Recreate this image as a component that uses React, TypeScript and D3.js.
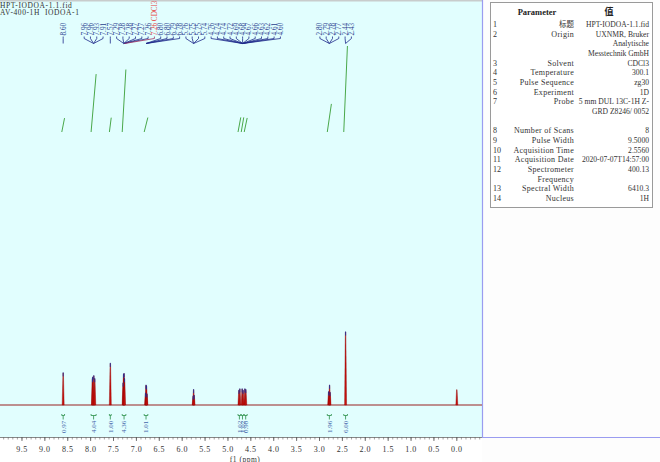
import React from "react";
import * as d3 from "d3";

// ---------- data ----------
const titleLines = ["HPT-IODOA-1.1.fid", "AV-400-1H  IODOA-1"];

// spectrum peaks (ppm, relative intensity; tallest = 100)
const peakPpm = [8.60, 7.96, 7.955, 7.93, 7.91, 7.57, 7.29, 7.28, 7.27, 7.26, 6.80, 6.79, 6.78, 6.77, 5.76, 5.75, 5.74, 4.76, 4.74, 4.69, 4.67, 4.63, 4.61, 2.80, 2.78, 2.77, 2.43, 0.00];
const peakHeight = [44, 36, 38, 40, 36, 57, 30, 42, 43, 36, 16, 27, 26, 15, 12, 21, 13, 20, 22, 22, 20, 22, 21, 18, 27, 17, 100, 21];

// peak picking labels
const labelGroupCenter = [8.60, 7.935, 7.57, 7.275, 7.26, 6.79, 5.75, 4.68, 2.785, 2.43];
const labelGroupTexts = [
  ["8.60"],
  ["7.96", "7.96", "7.93", "7.91"],
  ["7.57"],
  ["7.29", "7.28", "7.28", "7.27", "7.27", "7.26"],
  ["7.26 CDCl3"],
  ["6.80", "6.80", "6.79", "6.78"],
  ["5.76", "5.75", "5.75", "5.74"],
  ["4.76", "4.74", "4.74", "4.72", "4.69", "4.68", "4.67", "4.66", "4.63", "4.62", "4.61", "4.60"],
  ["2.80", "2.79", "2.78", "2.77"],
  ["2.44", "2.43"],
];
const labelGroupSolvent = [false, false, false, false, true, false, false, false, false, false];

// integrals
const integralFrom = [8.63, 7.99, 7.59, 7.31, 6.83, 4.78, 4.71, 4.645, 2.83, 2.47];
const integralTo = [8.57, 7.88, 7.55, 7.23, 6.75, 4.72, 4.655, 4.58, 2.74, 2.39];
const integralValue = [0.97, 4.04, 1.00, 4.36, 1.01, 1.02, 1.02, 0.98, 1.96, 6.00];

// axis ticks
const majorTicks = d3.range(0, 9.51, 0.5);
const minorTicks = d3.range(-0.5, 10.0, 0.1);

// parameter table
const tableNo = ["1", "2", "", "", "3", "4", "5", "6", "7", "", "", "8", "9", "10", "11", "12", "", "13", "14"];
const tableParam = ["标题", "Origin", "", "", "Solvent", "Temperature", "Pulse Sequence", "Experiment", "Probe", "", "", "Number of Scans", "Pulse Width", "Acquisition Time", "Acquisition Date", "Spectrometer", "Frequency", "Spectral Width", "Nucleus"];
const tableValue = ["HPT-IODOA-1.1.fid", "UXNMR, Bruker", "Analytische", "Messtechnik GmbH", "CDCl3", "300.1", "zg30", "1D", "5 mm DUL 13C-1H Z-", "GRD Z8246/ 0052", "", "8", "9.5000", "2.5560", "2020-07-07T14:57:00", "400.13", "", "6410.3", "1H"];

// ---------- layout ----------
const W = 660;
const H = 462;
const plotRight = 482;
const axisY = 437;
const FONT = "'Liberation Serif', 'DejaVu Serif', serif";
const CJK = "'Noto Sans CJK SC', sans-serif";

export default function App() {
  const x = d3.scaleLinear().domain([9.98, -0.55]).range([0, plotRight]);
  const y = d3.scaleLinear().domain([0, 100]).range([405, 332]);
  const iy = d3.scaleLinear().domain([0, 6]).range([132, 46]);

  // label placement: center each group on its peak, push right if overlapping
  const spacing = 6.3;
  const placed: { lx: number; tx: number; text: string; solvent: boolean }[] = [];
  let lastX = -Infinity;
  labelGroupTexts.forEach((texts, g) => {
    const cx = x(labelGroupCenter[g]);
    let start = cx - ((texts.length - 1) / 2) * spacing;
    if (start < lastX + spacing) start = lastX + spacing;
    texts.forEach((t, i) => {
      const lx = start + i * spacing;
      placed.push({ lx, tx: cx, text: t, solvent: labelGroupSolvent[g] });
      lastX = lx;
    });
  });

  const baseY = y(0);

  return (
    <svg width={W} height={H} style={{ position: "absolute", left: 0, top: 0, background: "#ffffff" }} fontFamily={FONT}>
      {/* plot background */}
      <rect x={0} y={0} width={plotRight} height={axisY} fill="#e1fefe" />
      <line x1={0} x2={plotRight} y1={0.75} y2={0.75} stroke="#c8cccc" strokeWidth={1.5} />
      {/* right panel */}
      <rect x={plotRight} y={0} width={W - plotRight} height={H} fill="#fdfdfd" />
      <line x1={plotRight + 0.5} x2={plotRight + 0.5} y1={0} y2={axisY + 0.5} stroke="#9a9cf0" strokeWidth={1.2} />
      <line x1={plotRight} x2={W} y1={axisY + 0.5} y2={axisY + 0.5} stroke="#9a9cf0" strokeWidth={1.2} />

      {/* title */}
      {titleLines.map((t, i) => (
        <text key={t} x={0} y={7.5 + i * 7.8} fontSize={7.5} letterSpacing={0.6} fill="#333" style={{ whiteSpace: "pre" }}>
          {t}
        </text>
      ))}

      {/* integral curves */}
      {integralValue.map((v, i) => (
        <line
          key={"ic" + i}
          x1={x(integralFrom[i])}
          x2={x(integralTo[i])}
          y1={iy(0)}
          y2={iy(v)}
          stroke="#4aa84a"
          strokeWidth={1}
        />
      ))}

      {/* peak labels */}
      {placed.map((p, i) => {
        const color = p.solvent ? "#e8403c" : "#28408e";
        const lineColor = p.solvent ? "#a03060" : "#1e2a8a";
        return (
          <g key={"pl" + i}>
            <text
              x={p.lx}
              y={35.5}
              transform={`rotate(-90, ${p.lx}, 35.5)`}
              fontSize={7.2}
              dy="0.35em"
              fill={color}
            >
              {p.text}
            </text>
            <path
              d={`M${p.lx},36.5 L${p.lx},38.5 L${p.tx},43.5`}
              fill="none"
              stroke={lineColor}
              strokeWidth={0.8}
            />
          </g>
        );
      })}

      {/* baseline */}
      <line x1={0} x2={plotRight} y1={baseY} y2={baseY} stroke="#b06a6a" strokeWidth={1.4} />

      {/* peaks */}
      {peakPpm.map((p, i) => {
        const px = x(p);
        const top = y(peakHeight[i]);
        return (
          <path
            key={"pk" + i}
            d={`M${px - 1},${baseY} L${px - 0.25},${top} L${px + 0.25},${top} L${px + 1},${baseY}Z`}
            fill="#c8100c"
            stroke="#8b0000"
            strokeWidth={0.4}
          />
        );
      })}
      {peakPpm.map((p, i) =>
        p > 0.1 ? (
          <line
            key={"pt" + i}
            x1={x(p)}
            x2={x(p)}
            y1={y(peakHeight[i]) - 0.5}
            y2={y(peakHeight[i]) + 3.5}
            stroke="#22309a"
            strokeWidth={0.9}
          />
        ) : null
      )}

      {/* integral brackets & labels */}
      {integralValue.map((v, i) => {
        const x1 = x(integralFrom[i]);
        const x2 = x(integralTo[i]);
        const xc = (x1 + x2) / 2;
        return (
          <g key={"ib" + i}>
            <path
              d={`M${x1},414 L${x1},415.5 L${x2},415.5 L${x2},414 M${xc},415.5 L${xc},419.5`}
              fill="none"
              stroke="#3c9a5a"
              strokeWidth={0.9}
            />
            <text
              x={xc}
              y={433}
              transform={`rotate(-90, ${xc}, 433)`}
              fontSize={7}
              dy="0.35em"
              fill="#4466aa"
            >
              {v.toFixed(2)}
            </text>
          </g>
        );
      })}

      {/* x axis */}
      <line x1={0} x2={plotRight} y1={axisY + 0.5} y2={axisY + 0.5} stroke="#888" strokeWidth={1} />
      {minorTicks.map((t, i) =>
        x(t) >= 0 && x(t) <= plotRight ? (
          <line key={"mt" + i} x1={x(t)} x2={x(t)} y1={axisY} y2={axisY + 2.5} stroke="#666" strokeWidth={0.6} />
        ) : null
      )}
      {majorTicks.map((t) => (
        <g key={"Mt" + t}>
          <line x1={x(t)} x2={x(t)} y1={axisY} y2={axisY + 4} stroke="#555" strokeWidth={0.8} />
          <text x={x(t)} y={452} fontSize={8} letterSpacing={0.5} textAnchor="middle" fill="#333">
            {d3.format(".1f")(t)}
          </text>
        </g>
      ))}
      <text x={245} y={461.5} fontSize={7.5} letterSpacing={0.5} textAnchor="middle" fill="#333">
        f1 (ppm)
      </text>

      {/* parameter table */}
      <rect x={490.5} y={2.5} width={162} height={205} fill="#ffffff" stroke="#9a9a9a" strokeWidth={1} />
      <text x={537} y={15} fontSize={8.5} fontWeight="bold" textAnchor="middle" fill="#222">
        Parameter
      </text>
      <text x={609} y={15} fontSize={9} fontWeight="bold" textAnchor="middle" fill="#222" fontFamily={CJK}>
        值
      </text>
      {tableParam.map((p, i) => {
        const by = 27 + i * 9.67;
        return (
          <g key={"tr" + i}>
            <text x={493} y={by} fontSize={8} fill="#333">
              {tableNo[i]}
            </text>
            <text
              x={574}
              y={by}
              fontSize={p === "标题" ? 7.5 : 8}
              letterSpacing={p === "标题" ? 0 : 0.3}
              textAnchor="end"
              fill="#333"
              fontFamily={p === "标题" ? CJK : FONT}
            >
              {p}
            </text>
            <text x={649} y={by} fontSize={7.6} textAnchor="end" fill="#333">
              {tableValue[i]}
            </text>
          </g>
        );
      })}
    </svg>
  );
}
